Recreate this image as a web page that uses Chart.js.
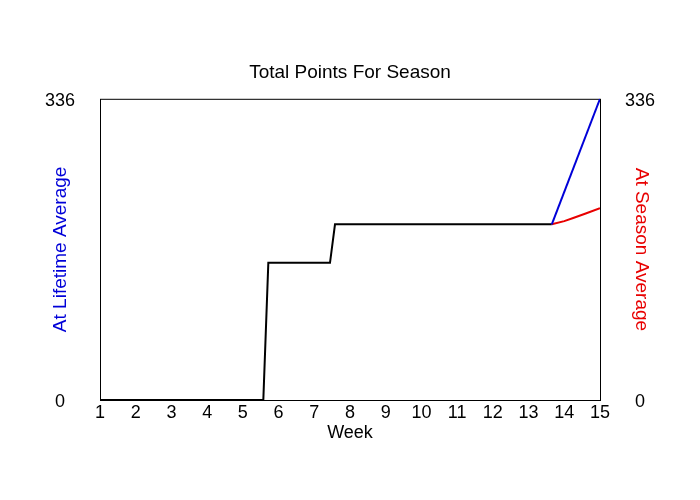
<!DOCTYPE html>
<html>
<head>
<meta charset="utf-8">
<script src="https://cdn.jsdelivr.net/npm/chart.js@4/dist/chart.umd.min.js"></script>
<style>
  html, body { margin: 0; padding: 0; background: #ffffff; }
  #wrap { width: 700px; height: 500px; }
</style>
</head>
<body>
<div id="wrap"><canvas id="c" width="700" height="500"></canvas></div>
<script>
// ---- data ----
const chartTitle = "Total Points For Season";
const xTitle = "Week";
const leftTitle = "At Lifetime Average";
const rightTitle = "At Season Average";

const weekMin = 1;
const weekMax = 15;
const pointsMin = 0;
const pointsMax = 336;
const yTickValues = [0, 336];

// actual season so far (black)
const weeksActual = [1, 5.573, 5.713, 7.44, 7.58, 13.65];
const pointsActual = [0, 0, 153, 153, 196, 196];

// projection at lifetime average (blue)
const weeksLifetime = [13.65, 15];
const pointsLifetime = [196, 336];

// projection at season average (red)
const weeksSeason = [13.65, 14.0, 14.25, 14.6, 15];
const pointsSeason = [196, 199.5, 203, 208, 214];

// ---- styling ----
const FONT = '"Liberation Sans", Arial, Helvetica, sans-serif';
const blueColor = '#0000d8';
const redColor = '#e80000';

function toXY(xs, ys) { return xs.map((x, i) => ({ x: x, y: ys[i] })); }

const framePlugin = {
  id: 'frame',
  beforeDatasetsDraw(chart) {
    const { ctx, chartArea: a } = chart;
    ctx.save();
    ctx.strokeStyle = '#000000';
    ctx.lineWidth = 1;
    ctx.strokeRect(a.left + 0.5, a.top + 0.5, a.right - a.left, a.bottom - a.top);
    ctx.restore();
  }
};

const sideTitlesPlugin = {
  id: 'sideTitles',
  afterDraw(chart) {
    const { ctx, chartArea: a } = chart;
    const cy = (a.top + a.bottom) / 2;
    ctx.save();
    ctx.font = '19px ' + FONT;
    ctx.textAlign = 'center';
    ctx.textBaseline = 'middle';
    ctx.fillStyle = blueColor;
    ctx.translate(a.left - 39, cy);
    ctx.rotate(-Math.PI / 2);
    ctx.fillText(leftTitle, 0, 0);
    ctx.restore();
    ctx.save();
    ctx.font = '19px ' + FONT;
    ctx.textAlign = 'center';
    ctx.textBaseline = 'middle';
    ctx.fillStyle = redColor;
    ctx.translate(a.right + 41, cy);
    ctx.rotate(Math.PI / 2);
    ctx.fillText(rightTitle, 0, 0);
    ctx.restore();
  }
};

function fixedYTicks(scale) {
  scale.ticks = yTickValues.map(v => ({ value: v }));
}

new Chart(document.getElementById('c'), {
  type: 'line',
  data: {
    datasets: [
      { label: 'Lifetime', data: toXY(weeksLifetime, pointsLifetime), borderColor: blueColor, borderWidth: 2, pointRadius: 0, tension: 0, fill: false, yAxisID: 'y' },
      { label: 'Season', data: toXY(weeksSeason, pointsSeason), borderColor: redColor, borderWidth: 2, pointRadius: 0, tension: 0, fill: false, yAxisID: 'y' },
      { label: 'Actual', data: toXY(weeksActual, pointsActual), borderColor: '#000000', borderWidth: 2, pointRadius: 0, tension: 0, fill: false, yAxisID: 'y' }
    ]
  },
  options: {
    responsive: false,
    animation: false,
    devicePixelRatio: 1,
    layout: { padding: 0 },
    plugins: {
      legend: { display: false },
      tooltip: { enabled: false },
      title: {
        display: true,
        text: chartTitle,
        color: '#000000',
        font: { family: FONT, size: 19, weight: 'normal' },
        padding: { top: 61, bottom: 15 }
      }
    },
    scales: {
      x: {
        type: 'linear',
        position: 'bottom',
        min: weekMin,
        max: weekMax,
        grid: { display: false, drawTicks: false },
        border: { display: false },
        ticks: { stepSize: 1, color: '#000000', font: { family: FONT, size: 18 }, padding: 2, maxRotation: 0, autoSkip: false },
        title: { display: true, text: xTitle, color: '#000000', font: { family: FONT, size: 18 }, padding: { top: 0, bottom: 56 } },
        afterFit(scale) { scale.height = 100; }
      },
      y: {
        type: 'linear',
        position: 'left',
        min: pointsMin,
        max: pointsMax,
        grid: { display: false, drawTicks: false },
        border: { display: false },
        afterBuildTicks: fixedYTicks,
        ticks: { color: '#000000', font: { family: FONT, size: 18 }, padding: 25, crossAlign: 'center', labelOffset: 2 },
        afterFit(scale) { scale.width = 100; }
      },
      y2: {
        type: 'linear',
        position: 'right',
        min: pointsMin,
        max: pointsMax,
        grid: { display: false, drawTicks: false },
        border: { display: false },
        afterBuildTicks: fixedYTicks,
        ticks: { color: '#000000', font: { family: FONT, size: 18 }, padding: 25, crossAlign: 'center', labelOffset: 2 },
        afterFit(scale) { scale.width = 100; }
      }
    }
  },
  plugins: [framePlugin, sideTitlesPlugin]
});
</script>
</body>
</html>
